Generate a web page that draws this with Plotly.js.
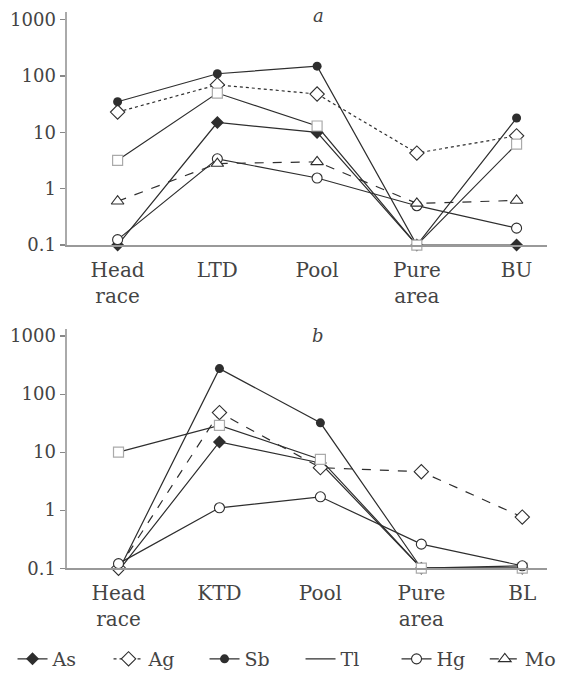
<!DOCTYPE html>
<html>
<head>
<meta charset="utf-8">
<script src="https://cdn.plot.ly/plotly-3.0.1.min.js"></script>
<style>html,body{margin:0;padding:0;background:#fff;}#chart{width:581px;height:678px;}</style>
</head>
<body>
<div id="chart"></div>
<script>
// Categories
const catsA = ["Head<br>race", "LTD", "Pool", "Pure<br>area", "BU"];
const catsB = ["Head<br>race", "KTD", "Pool", "Pure<br>area", "BL"];
const yTickVals = [0.1, 1, 10, 100, 1000];
const yTickText = ["0.1", "1", "10", "100", "1000"];

// Panel a values
const asA = [0.1, 15, 10, 0.1, 0.1];
const agA = [23, 70, 48, 4.3, 8.7];
const sbA = [35, 110, 150, 0.1, 18];
const tlA = [3.2, 50, 13, 0.1, 6.2];
const hgA = [0.125, 3.4, 1.55, 0.5, 0.2];
const moA = [0.6, 2.8, 3.0, 0.55, 0.62];

// Panel b values
const asB = [0.09, 15, 6.5, 0.1, 0.1];
const agB = [0.1, 48, 5.4, 4.6, 0.76];
const sbB = [0.09, 275, 32, 0.1, 0.11];
const tlB = [10, 29, 7.5, 0.1, 0.1];
const hgB = [0.12, 1.1, 1.7, 0.26, 0.11];

const ink = '#2e2e2e';
const FONT = 'DejaVu Serif, Liberation Serif, serif';

const styles = {
  As: {line: {color: ink, width: 1.2, dash: 'solid'}, marker: {symbol: 'diamond', size: 10, color: ink}},
  Ag: {line: {color: ink, width: 1.2, dash: 'dot'}, marker: {symbol: 'diamond', size: 11, color: '#fff', line: {color: ink, width: 1.1}}},
  Sb: {line: {color: ink, width: 1.2, dash: 'solid'}, marker: {symbol: 'circle', size: 9, color: ink}},
  Tl: {line: {color: ink, width: 1.2, dash: 'solid'}, marker: {symbol: 'square', size: 10, color: '#fff', line: {color: '#aaa', width: 1.2}}},
  Hg: {line: {color: ink, width: 1.2, dash: 'solid'}, marker: {symbol: 'circle', size: 10, color: '#fff', line: {color: ink, width: 1.1}}},
  Mo: {line: {color: ink, width: 1.2, dash: 'dash'}, marker: {symbol: 'triangle-up', size: 11, color: '#fff', line: {color: ink, width: 1.1}}}
};

function tr(name, cats, ys, xa, ya, showlegend, rank, dashOverride, legendId) {
  const s = styles[name];
  const line = Object.assign({}, s.line);
  if (dashOverride) line.dash = dashOverride;
  return {
    type: 'scatter', mode: 'lines+markers', name: name,
    x: cats, y: ys, xaxis: xa, yaxis: ya,
    line: line, marker: s.marker, cliponaxis: false,
    showlegend: showlegend, legendrank: rank, legend: legendId || 'legend', hoverinfo: 'skip'
  };
}

const data = [
  tr('As', catsA, asA, 'x', 'y', true, 1),
  tr('Ag', catsA, agA, 'x', 'y', true, 2),
  tr('Sb', catsA, sbA, 'x', 'y', true, 3),
  tr('Tl', catsA, tlA, 'x', 'y', false, 4),
  {type: 'scatter', mode: 'lines', name: 'Tl', x: [null], y: [null], xaxis: 'x', yaxis: 'y',
   line: {color: ink, width: 1.2}, showlegend: true, legendrank: 4, hoverinfo: 'skip'},
  tr('Hg', catsA, hgA, 'x', 'y', true, 5),
  tr('Mo', catsA, moA, 'x', 'y', true, 6, null, 'legend2'),

  tr('As', catsB, asB, 'x2', 'y2', false, 7),
  tr('Ag', catsB, agB, 'x2', 'y2', false, 8, 'dash'),
  tr('Sb', catsB, sbB, 'x2', 'y2', false, 9),
  tr('Tl', catsB, tlB, 'x2', 'y2', false, 10),
  tr('Hg', catsB, hgB, 'x2', 'y2', false, 11)
];

const xCommon = {
  type: 'category', showgrid: false, zeroline: false,
  showline: true, linecolor: '#999', linewidth: 2,
  ticks: '', ticklabelstandoff: 6, tickfont: {family: FONT, size: 20, color: '#444'}
};
const yCommon = {
  type: 'log', showgrid: false, zeroline: false,
  showline: true, linecolor: '#aaa', linewidth: 2,
  ticks: 'outside', ticklen: 5, tickcolor: '#888', tickwidth: 1.2,
  tickvals: yTickVals, ticktext: yTickText,
  tickfont: {family: FONT, size: 18, color: '#444'}
};

const legendCommon = {orientation: 'h', xanchor: 'left', y: 0.016, yanchor: 'middle',
  font: {family: FONT, size: 19, color: '#444'}, traceorder: 'normal',
  entrywidth: 51, entrywidthmode: 'pixels', itemwidth: 30, bgcolor: 'rgba(0,0,0,0)'};

const layout = {
  width: 581, height: 678,
  margin: {l: 0, r: 0, t: 0, b: 0},
  paper_bgcolor: '#fff', plot_bgcolor: '#fff',
  showlegend: true,
  legend: Object.assign({}, legendCommon, {x: 13 / 581}),
  legend2: Object.assign({}, legendCommon, {x: 503 / 581}),
  xaxis: Object.assign({}, xCommon, {domain: [0.1188, 0.9759], range: [-0.512, 4.3], anchor: 'y'}),
  yaxis: Object.assign({}, yCommon, {domain: [0.6342, 0.9823], range: [-1, 3.14], anchor: 'x'}),
  xaxis2: Object.assign({}, xCommon, {domain: [0.1188, 0.9759], range: [-0.515, 4.24], anchor: 'y2'}),
  yaxis2: Object.assign({}, yCommon, {domain: [0.1519, 0.5088], range: [-1, 3.12], anchor: 'x2'}),
  annotations: [
    {text: 'a', xref: 'paper', yref: 'paper', x: 330 / 581, y: 1 - 16 / 678, yanchor: 'middle', xanchor: 'center', showarrow: false,
     font: {family: FONT, size: 18, color: '#444', style: 'italic'}},
    {text: 'b', xref: 'paper', yref: 'paper', x: 330 / 581, y: 1 - 339 / 678, yanchor: 'middle', xanchor: 'center', showarrow: false,
     font: {family: FONT, size: 18, color: '#444', style: 'italic'}}
  ]
};

Plotly.newPlot('chart', data, layout, {staticPlot: true, displayModeBar: false});
</script>
</body>
</html>
